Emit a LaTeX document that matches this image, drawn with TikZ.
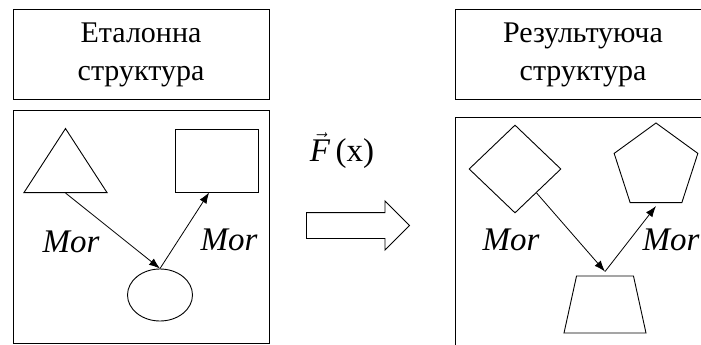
\documentclass[tikz,border=0pt]{standalone}
\usepackage{fontspec}
\setmainfont{LiberationSerif}[Extension=.ttf,UprightFont=*-Regular,ItalicFont=*-Italic,BoldFont=*-Bold]
\usetikzlibrary{shapes.geometric,shapes.arrows,arrows.meta}
\tikzset{
  titlebox/.style={draw,line width=1pt,minimum width=256pt,minimum height=89pt,align=center,font=\fontsize{30}{38}\selectfont},
  panel/.style={draw,line width=1pt,minimum width=256pt,minimum height=233pt},
  figure/.style={draw,line width=0.9pt,inner sep=0pt},
  morph/.style={->,line width=0.8pt},
  morlabel/.style={font=\fontsize{33}{33}\selectfont\itshape},
}
\begin{document}
\begin{tikzpicture}[x=1pt,y=-1pt,>={Latex[length=11pt,width=8pt]}]
\useasboundingbox (0,0) rectangle (701,345);
\clip (0,0) rectangle (701,345);
% reference structure
\node[titlebox] (refT) at (141,54.5) {Еталонна\\структура};
\node[panel] (refP) at (141,226.5) {};
\node[figure,isosceles triangle,shape border rotate=90,isosceles triangle stretches,
  minimum width=83pt,minimum height=64pt,anchor=lower side] (tri) at (65.5,193) {};
\node[figure,rectangle,minimum width=83pt,minimum height=63pt] (sq) at (216.5,160.5) {};
\node[figure,ellipse,minimum width=65pt,minimum height=52pt] (ell) at (160,295) {};
\draw[morph] (tri.lower side) -- (ell.north);
\draw[morph] (ell.north) -- (sq.257);
\node[morlabel] (mor1) at (71,242) {Mor};
\node[morlabel] (mor2) at (229,240) {Mor};
% mapping
\node[font=\fontsize{33}{33}\selectfont] (fx) at (342,151) {$\vec{\textit{F}}$\,(x)};
\node[draw,line width=0.9pt,single arrow,inner xsep=0pt,inner ysep=12.5pt,minimum height=103pt,
  single arrow head extend=11.5pt,anchor=tail] (map) at (306,225.5) {};
% resulting structure
\node[titlebox] (resT) at (583,54.5) {Результуюча\\структура};
\node[panel] (resP) at (583,233.5) {};
\node[figure,diamond,minimum width=92pt,minimum height=88pt] (dia) at (515,169) {};
\node[figure,regular polygon,regular polygon sides=5,minimum size=88pt] (pent) at (656,167) {};
\node[figure,trapezium,inner sep=2pt,trapezium left angle=77.6,trapezium right angle=77.6,trapezium stretches=true,
  minimum width=82pt,minimum height=57pt] (trap) at (605,304.5) {};
\draw[morph] (dia.312) -- ([yshift=4pt]trap.north);
\draw[morph] ([yshift=4pt]trap.north) -- ([yshift=-3pt]pent.south);
\node[morlabel] (mor3) at (511,240) {Mor};
\node[morlabel,anchor=west] (mor4) at (639,240) {Mor};
\end{tikzpicture}
\end{document}
